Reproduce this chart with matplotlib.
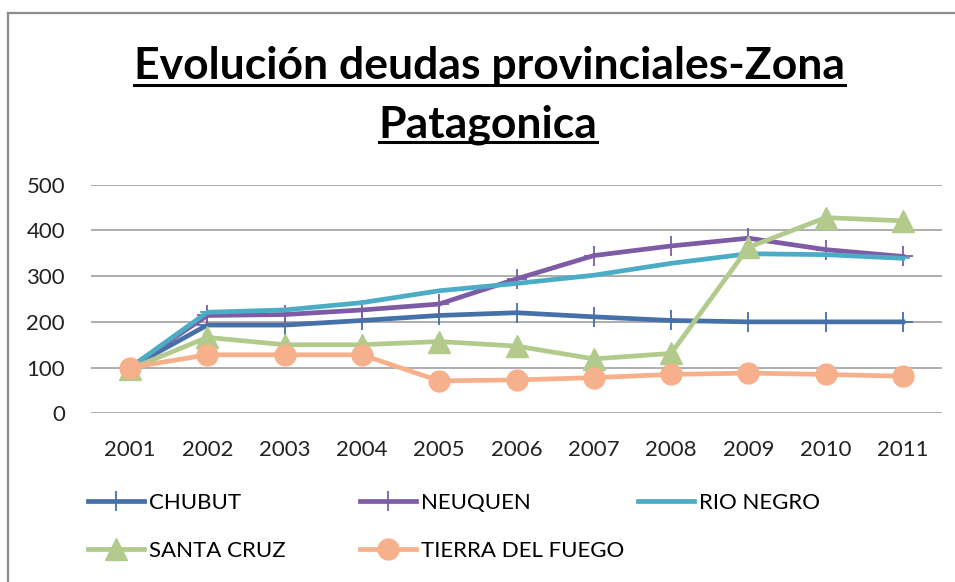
import numpy as np
import matplotlib.pyplot as plt
from matplotlib.lines import Line2D

plt.rcParams['font.family'] = ['Lato', 'DejaVu Sans']

# Data
years = [2001, 2002, 2003, 2004, 2005, 2006, 2007, 2008, 2009, 2010, 2011]
chubut = [100, 193, 193, 203, 214, 220, 211, 203, 200, 200, 200]
neuquen = [100, 214, 216, 226, 239, 294, 345, 366, 383, 358, 343]
rio_negro = [100, 221, 226, 242, 268, 284, 302, 328, 349, 347, 339]
santa_cruz = [97, 166, 150, 150, 157, 147, 119, 131, 363, 428, 421]
tierra_fuego = [100, 128, 128, 128, 71, 73, 78, 85, 88, 85, 81]

names = ['CHUBUT', 'NEUQUEN', 'RIO NEGRO', 'SANTA CRUZ', 'TIERRA DEL FUEGO']
yticks = [0, 100, 200, 300, 400, 500]

W, H = 955, 582
fig = plt.figure(figsize=(W / 100, H / 100), dpi=100)
ax = fig.add_axes([91.4 / W, 1 - 413.3 / H, (941.6 - 91.4) / W, (413.3 - 184.7) / H])

lw = 3.4
l1, = ax.plot(years, chubut, color='#4570A8', lw=lw, marker='+', ms=15, mew=1.3)
l2, = ax.plot(years, neuquen, color='#7E5CA5', lw=lw, marker='+', ms=15, mew=1.3)
l3, = ax.plot(years, rio_negro, color='#4BACC6', lw=lw, marker='_', ms=10, mew=1.3)
l4, = ax.plot(years, santa_cruz, color='#B2CB8C', lw=lw, marker='^', ms=16)
l5, = ax.plot(years, tierra_fuego, color='#F6B08C', lw=lw, marker='o', ms=15)

ax.set_xlim(2000.5, 2011.5)
ax.set_ylim(0, 500)
ax.set_xticks(years)
ax.set_xticklabels([str(y) for y in years])
ax.set_yticks(yticks)
ax.tick_params(length=0, labelsize=16, colors='#222222')
ax.tick_params(axis='y', pad=19)
ax.tick_params(axis='x', pad=19)
for s in ax.spines.values():
    s.set_visible(False)
ax.grid(axis='y', color='#A0A0A0', lw=1.2)
ax.set_axisbelow(True)
for ln in ax.lines:
    ln.set_clip_on(False)

# legend entries on a fixed grid, like the original
handles = [l1, l2, l3, l4, l5]
spots = [(88, 503), (360, 503), (638, 503), (88, 551), (360, 551)]
for h, name, (px, py) in zip(handles, names, spots):
    fig.legend([h], [name], loc='center left', bbox_to_anchor=(px / W, 1 - py / H),
               frameon=False, fontsize=16, handlelength=2.5, handletextpad=0.25,
               borderpad=0, borderaxespad=0, numpoints=1)

# title, two centred lines, bold and underlined
t1 = fig.text(489 / W, 1 - 79 / H, 'Evolución deudas provinciales-Zona',
              ha='center', va='baseline', fontsize=32, fontweight='bold')
t2 = fig.text(488 / W, 1 - 137 / H, 'Patagonica',
              ha='center', va='baseline', fontsize=32, fontweight='bold')
fig.canvas.draw()
r = fig.canvas.get_renderer()
for t, uy in [(t1, 85), (t2, 142)]:
    bb = t.get_window_extent(r)
    fig.add_artist(Line2D([bb.x0 / W, bb.x1 / W], [1 - uy / H, 1 - uy / H],
                          transform=fig.transFigure, color='black', lw=2.2))

# chart border (top and left visible)
fig.add_artist(Line2D([8 / W, 1.0], [1 - 13 / H, 1 - 13 / H], transform=fig.transFigure,
                      color='#8C8C8C', lw=1.6))
fig.add_artist(Line2D([8 / W, 8 / W], [0, 1 - 13 / H], transform=fig.transFigure,
                      color='#8C8C8C', lw=1.6))

fig.savefig('out.png', dpi=100)
